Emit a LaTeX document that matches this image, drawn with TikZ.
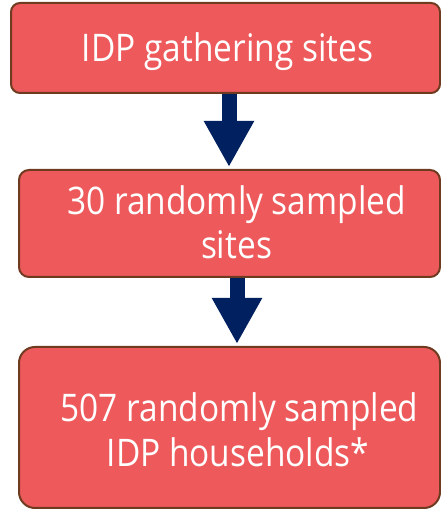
\documentclass[tikz,border=0pt]{standalone}
\usepackage{fontspec}
\setmainfont{Open Sans}[FakeStretch=0.88]
\usetikzlibrary{arrows.meta}
\definecolor{boxfill}{RGB}{238,90,92}
\definecolor{boxline}{RGB}{110,58,32}
\definecolor{arrownavy}{HTML}{002060}
\tikzset{
  stagebox/.style={draw=boxline, line width=2pt, fill=boxfill, inner sep=0pt, rounded corners=#1},
  stagetext/.style={text=white, anchor=base, inner sep=0pt, font=\fontsize{38}{44}\selectfont},
  fatarrow/.style={draw=arrownavy, line width=15pt, -{Triangle[width=47pt,length=46pt]}}
}
\begin{document}
\begin{tikzpicture}[x=1pt,y=1pt]
\useasboundingbox (0,0) rectangle (441,511);
\node[stagebox=9pt, minimum width=429pt, minimum height=90pt] (b1) at (225.5,463) {};
\node[stagebox=10pt, minimum width=421pt, minimum height=107pt] (b2) at (229.5,287.5) {};
\node[stagebox=16pt, minimum width=421pt, minimum height=161pt] (b3) at (229.5,83.5) {};
\node[stagetext] (t1) at (227.5,449) {IDP gathering sites};
\node[stagetext] (t2a) at (236.5,296) {30 randomly sampled};
\node[stagetext] (t2b) at (236.5,252) {sites};
\node[stagetext] (t3a) at (239.5,89) {507 randomly sampled};
\node[stagetext] (t3b) at (238,44) {IDP households*};
\draw[fatarrow] ([xshift=3.5pt]b1.south) -- ([xshift=-0.5pt,yshift=2pt]b2.north);
\draw[fatarrow] ([xshift=7.5pt]b2.south) -- ([xshift=7.5pt,yshift=2pt]b3.north);
\end{tikzpicture}
\end{document}
